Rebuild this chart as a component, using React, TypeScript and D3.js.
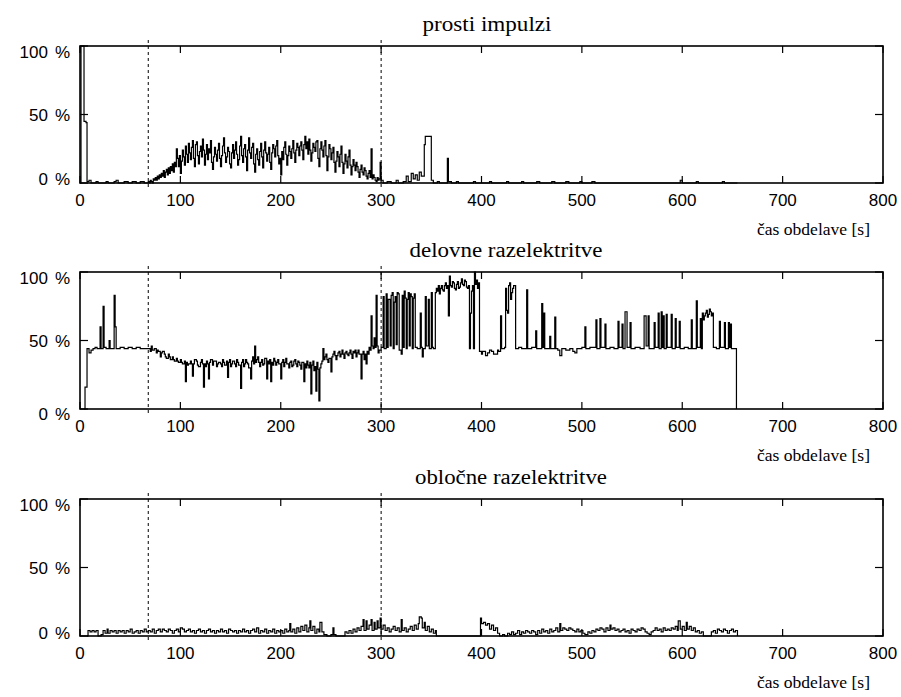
import * as d3 from "d3";
import { useRef, useEffect } from "react";

type Pt = [number, number];

// os x / os y
const xTicks = [0, 100, 200, 300, 400, 500, 600, 700, 800];
const yTicks = [0, 50, 100];
const markers = [68, 300]; // črtkane navpičnice
const xLabel = "čas obdelave [s]";

// prosti impulzi [s, %]
const prostiImpulzi: Pt[] = [
  [0, 0], [1, 100], [4, 45], [6, 44], [7, 1], [9, 2], [11, 0], [16, 1], [18, 0], [26, 1], [28, 0], [34, 1], [36, 2], [38, 0],
  [44, 1], [48, 0], [52, 1], [56, 0], [60, 1], [64, 0], [68, 1], [69, 0], [70, 2], [71, 1], [72, 0], [73, 3], [74, 2],
  [75, 4], [76, 2], [77, 5], [78, 3], [79, 6], [80, 4], [81, 7], [82, 5], [83, 9], [84, 4], [85, 8], [86, 10], [87, 6],
  [88, 11], [89, 7], [90, 12], [91, 9], [92, 14], [93, 8], [94, 15], [95, 12],
  [96, 25], [97, 18], [98, 12], [99, 20], [100, 7], [101, 16], [102, 24], [103, 19], [104, 13], [105, 27], [106, 21],
  [107, 15], [108, 29], [109, 22], [110, 17], [111, 26], [112, 31], [113, 18], [114, 12], [115, 28], [116, 30], [117, 20],
  [118, 14], [119, 23], [120, 27], [121, 19], [122, 32], [123, 24], [124, 13], [125, 21], [126, 28], [127, 17], [128, 25],
  [129, 22], [130, 31], [131, 15], [132, 10], [133, 19], [134, 26], [135, 21], [136, 16], [137, 24], [138, 29], [139, 18],
  [140, 12], [141, 20], [142, 27], [143, 33], [144, 22], [145, 15], [146, 19], [147, 26], [148, 23], [149, 14], [150, 11],
  [151, 22], [152, 28], [153, 18], [154, 24], [155, 30], [156, 21], [157, 13], [158, 17], [159, 27], [160, 34], [161, 20],
  [162, 15], [163, 25], [164, 28], [165, 19], [166, 9], [167, 24], [168, 33], [169, 22], [170, 18], [171, 26], [172, 29],
  [173, 14], [174, 8], [175, 21], [176, 25], [177, 17], [178, 13], [179, 23], [180, 29], [181, 19], [182, 11], [183, 24],
  [184, 30], [185, 22], [186, 16], [187, 21], [188, 26], [189, 15], [190, 10], [191, 22], [192, 28], [193, 25], [194, 19],
  [195, 27], [196, 31], [197, 20], [198, 14], [199, 18], [200, 6], [201, 23], [202, 17], [203, 26], [204, 30], [205, 21],
  [206, 13], [207, 20], [208, 27], [209, 23], [210, 18], [211, 25], [212, 31], [213, 22], [214, 15], [215, 24], [216, 29],
  [217, 26], [218, 20], [219, 27], [220, 30], [221, 24], [222, 17], [223, 28], [224, 34], [225, 25], [226, 30], [227, 21],
  [228, 32], [229, 24], [230, 16], [231, 22], [232, 29], [233, 26], [234, 23], [235, 30], [236, 31], [237, 18], [238, 12],
  [239, 25], [240, 30], [241, 24], [242, 19], [243, 27], [244, 31], [245, 20], [246, 9], [247, 19], [248, 28], [249, 25],
  [250, 17], [251, 22], [252, 26], [253, 15], [254, 8], [255, 16], [256, 23], [257, 19], [258, 12], [259, 21], [260, 27],
  [261, 15], [262, 7], [263, 14], [264, 21], [265, 16], [266, 11], [267, 19], [268, 24], [269, 13], [270, 6], [271, 12],
  [272, 17], [273, 13], [274, 9], [275, 15], [276, 12], [277, 8], [278, 4], [279, 10], [280, 13], [281, 8], [282, 6],
  [283, 11], [284, 9], [285, 5], [286, 3], [287, 7], [288, 9], [289, 4], [290, 25], [291, 3], [292, 6], [293, 4], [294, 2],
  [295, 1], [296, 4], [297, 2], [298, 3], [299, 15], [300, 2],
  [302, 0], [306, 1], [310, 0], [315, 2], [317, 0], [322, 1], [325, 5], [327, 1], [330, 7], [332, 3], [334, 6],
  [336, 2], [338, 8], [340, 5], [343, 28], [344, 34], [350, 2], [352, 0], [356, 1], [358, 0], [366, 18], [367, 1],
  [370, 0], [375, 1], [377, 0], [392, 1], [394, 0], [408, 1], [410, 0], [425, 1], [427, 0], [440, 1], [442, 0], [455, 1],
  [458, 0], [470, 1], [473, 0], [484, 1], [487, 0], [498, 1], [500, 0], [510, 1], [513, 0], [598, 2], [600, 0], [614, 1],
  [616, 0], [640, 1], [642, 0], [655, 0],
];

// delovne razelektritve [s, %]
const delovneRazelektritve: Pt[] = [
  [4, 0], [5, 16], [7, 44], [9, 41], [11, 43], [13, 44], [15, 45], [17, 44], [20, 60], [21, 44], [23, 75], [24, 45],
  [26, 44], [29, 50], [30, 44], [34, 83], [35, 60], [36, 44], [40, 45], [44, 44], [48, 45], [52, 44], [56, 45], [60, 44],
  [66, 44], [70, 42], [71, 46], [72, 43], [74, 44], [76, 41], [77, 43], [78, 42], [80, 38], [81, 41], [82, 42], [84, 40],
  [85, 38], [86, 37], [88, 40], [89, 38], [90, 36], [92, 38], [93, 36], [94, 35], [96, 37], [97, 35], [98, 34],
  [100, 36], [101, 34], [102, 33], [104, 35], [105, 20], [106, 34], [107, 32], [108, 33], [110, 35], [111, 33],
  [112, 24], [113, 33], [114, 36], [116, 35], [117, 32], [118, 31], [120, 34], [121, 36], [122, 33], [123, 16], [124, 33],
  [125, 31], [126, 35], [127, 33], [128, 22], [129, 34], [130, 36], [132, 32], [133, 35], [134, 35], [136, 31], [137, 33],
  [138, 34], [140, 33], [141, 31], [142, 36], [143, 34], [144, 32], [146, 35], [147, 23], [148, 34], [149, 36], [150, 31],
  [151, 33], [152, 35], [154, 33], [155, 31], [156, 36], [157, 34], [158, 32], [160, 15], [161, 34], [162, 36], [163, 31],
  [164, 33], [165, 36], [166, 34], [167, 33], [168, 30], [170, 22], [171, 35], [172, 38], [173, 33], [174, 46], [175, 34],
  [176, 36], [177, 38], [178, 34], [179, 31], [180, 34], [181, 36], [182, 32], [183, 33], [184, 37], [186, 22], [187, 35],
  [188, 33], [189, 36], [190, 20], [191, 34], [192, 32], [193, 37], [194, 35], [195, 32], [196, 34], [197, 36], [198, 33],
  [200, 22], [201, 34], [202, 36], [203, 31], [204, 34], [205, 37], [206, 33], [208, 30], [209, 34], [210, 35], [211, 31],
  [212, 32], [213, 35], [214, 36], [215, 33], [216, 31], [217, 35], [218, 34], [219, 32], [220, 29], [221, 34], [223, 20],
  [224, 33], [225, 30], [226, 35], [227, 32], [228, 30], [229, 34], [230, 11], [231, 32], [232, 35], [233, 28], [234, 31],
  [235, 13], [236, 34], [237, 29], [238, 6], [239, 30], [240, 33], [241, 35], [242, 44], [243, 36], [244, 38], [245, 40],
  [246, 36], [247, 34], [248, 37], [250, 27], [251, 38], [252, 40], [253, 42], [254, 39], [255, 36], [256, 39], [257, 41],
  [258, 42], [259, 38], [260, 40], [261, 43], [262, 40], [263, 37], [264, 41], [265, 42], [266, 40], [267, 39], [268, 41],
  [269, 43], [270, 40], [271, 37], [272, 42], [273, 41], [274, 43], [275, 38], [276, 41], [277, 43], [278, 40], [280, 22],
  [281, 40], [282, 42], [283, 36], [284, 40], [285, 33], [286, 42], [287, 40], [288, 45], [289, 43], [290, 68], [291, 46],
  [292, 44], [293, 52], [294, 45], [295, 83], [296, 46], [297, 41], [298, 43], [300, 45],
  [302, 82], [303, 44], [305, 84], [306, 45], [307, 80], [308, 80], [309, 46], [310, 83], [311, 85], [312, 44], [313, 78],
  [314, 82], [315, 47], [316, 85], [317, 84], [318, 43], [320, 40], [321, 83], [322, 45], [323, 86], [324, 81], [325, 44],
  [326, 80], [327, 85], [328, 46], [329, 84], [330, 82], [331, 44], [332, 81], [333, 84], [334, 45], [336, 44], [339, 70],
  [340, 45], [341, 38], [342, 44], [344, 82], [345, 46], [347, 80], [348, 44], [350, 85], [351, 45], [352, 44], [354, 85],
  [355, 88], [356, 86], [357, 90], [358, 84], [359, 88], [360, 90], [361, 87], [362, 86], [363, 90], [364, 92], [365, 88],
  [366, 90], [367, 68], [368, 97], [369, 90], [370, 89], [371, 93], [372, 92], [373, 88], [374, 87], [375, 91], [376, 93],
  [377, 88], [378, 89], [379, 92], [380, 95], [381, 91], [382, 90], [383, 94], [384, 93], [385, 89], [386, 88], [387, 90],
  [388, 44], [389, 70], [390, 86], [391, 90], [392, 44], [393, 100], [394, 91], [395, 94], [396, 88], [397, 92],
  [398, 42], [400, 40], [401, 42], [403, 42], [404, 39], [406, 41], [408, 43], [410, 42], [412, 40], [414, 40], [416, 43],
  [417, 42], [419, 68], [420, 44], [423, 45], [424, 88], [425, 72], [426, 70], [427, 90], [428, 92], [429, 80], [430, 85],
  [431, 88], [432, 90], [434, 44], [437, 45], [440, 44], [445, 87], [446, 44], [450, 45], [454, 57], [455, 44], [460, 77],
  [461, 45], [462, 70], [463, 44], [468, 53], [469, 44], [473, 67], [474, 44], [476, 43], [478, 39], [480, 44], [484, 43],
  [488, 44], [491, 42], [493, 41], [495, 44], [500, 45], [503, 60], [504, 44], [508, 45], [514, 65], [515, 44], [518, 66],
  [519, 45], [523, 62], [524, 44], [528, 45], [532, 44], [536, 64], [537, 45], [540, 62], [541, 44], [543, 71], [545, 45],
  [548, 63], [549, 44], [553, 45], [558, 44], [562, 68], [564, 46], [566, 68], [567, 44], [572, 63], [573, 45], [576, 70],
  [577, 44], [579, 71], [580, 45], [581, 68], [582, 44], [584, 69], [585, 45], [589, 69], [590, 44], [593, 66], [594, 45],
  [597, 64], [598, 44], [602, 45], [606, 44], [609, 65], [610, 44], [614, 79], [615, 45], [618, 66], [619, 44], [620, 70],
  [621, 65], [622, 68], [623, 70], [624, 72], [625, 67], [626, 69], [627, 73], [628, 71], [629, 68], [630, 70], [631, 45],
  [634, 44], [637, 64], [638, 45], [642, 63], [643, 44], [646, 63], [647, 45], [648, 62], [649, 44], [654, 0],
];

// obločne razelektritve [s, %]
const oblocneRazelektritve: Pt[] = [
  [7, 0], [8, 4], [10, 3], [12, 4], [14, 3], [16, 4], [18, 0], [21, 1], [23, 4], [25, 2], [27, 5], [28, 2], [30, 4],
  [32, 3], [34, 4], [36, 2], [38, 4], [40, 3], [42, 4], [44, 2], [46, 4], [48, 3], [50, 5], [52, 2], [54, 3], [56, 4],
  [58, 2], [60, 4], [62, 3], [64, 5], [66, 3], [68, 4], [70, 3], [72, 5], [74, 2], [76, 4], [78, 5], [80, 3], [82, 5],
  [84, 4], [86, 3], [88, 5], [90, 4], [92, 2], [94, 4], [96, 5], [98, 3], [100, 6], [102, 5], [104, 3], [106, 4], [108, 5],
  [110, 3], [112, 4], [114, 2], [116, 4], [118, 5], [120, 3], [122, 4], [124, 2], [126, 4], [128, 5], [130, 3], [132, 4],
  [134, 2], [136, 4], [138, 3], [140, 5], [142, 3], [144, 4], [146, 2], [148, 5], [150, 4], [152, 3], [154, 4], [156, 2],
  [158, 4], [160, 3], [162, 5], [164, 3], [166, 4], [168, 2], [170, 4], [172, 5], [174, 3], [176, 6], [178, 2], [180, 4],
  [182, 3], [184, 5], [186, 2], [188, 4], [190, 3], [192, 5], [194, 2], [196, 4], [198, 3], [200, 4], [202, 2], [204, 5],
  [206, 3], [208, 4], [209, 9], [210, 3], [212, 5], [214, 2], [216, 6], [218, 3], [220, 7], [222, 4], [224, 8], [226, 3],
  [228, 6], [229, 11], [230, 4], [232, 7], [234, 2], [236, 5], [238, 3], [239, 10], [241, 3], [243, 1], [246, 0], [250, 1],
  [252, 6], [253, 1], [255, 0], [263, 0], [264, 3], [266, 2], [268, 4], [270, 2], [272, 5], [274, 3], [276, 6], [278, 4],
  [280, 7], [282, 12], [283, 4], [285, 11], [286, 5], [288, 8], [290, 12], [291, 4], [293, 10], [294, 5], [296, 11],
  [297, 6], [299, 13], [300, 5], [302, 8], [304, 4], [306, 6], [308, 3], [310, 5], [312, 7], [314, 4], [316, 6], [318, 3],
  [320, 12], [321, 4], [323, 6], [325, 3], [327, 5], [329, 7], [331, 4], [333, 8], [335, 5], [337, 9], [338, 14], [340, 13],
  [341, 6], [343, 10], [344, 4], [346, 7], [348, 3], [350, 5], [352, 2], [354, 4], [355, 0], [398, 0], [399, 13], [400, 9],
  [402, 10], [404, 8], [406, 9], [408, 5], [410, 8], [412, 4], [414, 6], [416, 2], [418, 0], [421, 1], [423, 0], [426, 2],
  [428, 1], [430, 3], [432, 1], [434, 2], [436, 4], [438, 1], [440, 3], [442, 2], [444, 4], [446, 3], [448, 2], [450, 4],
  [452, 3], [454, 1], [456, 4], [458, 2], [460, 5], [462, 3], [464, 4], [466, 2], [468, 5], [470, 3], [472, 4], [474, 6],
  [476, 3], [478, 9], [479, 4], [481, 6], [483, 5], [485, 4], [487, 6], [489, 5], [491, 4], [493, 3], [495, 5], [497, 3],
  [499, 4], [501, 2], [503, 1], [506, 3], [508, 2], [510, 4], [512, 3], [514, 5], [516, 4], [518, 6], [520, 5], [522, 3],
  [524, 6], [526, 4], [528, 8], [529, 5], [531, 6], [533, 4], [535, 5], [537, 3], [539, 4], [541, 5], [543, 3], [545, 4],
  [547, 2], [549, 5], [551, 4], [553, 3], [555, 5], [557, 4], [559, 6], [561, 5], [563, 3], [565, 2], [567, 1], [569, 3],
  [571, 4], [573, 6], [575, 4], [577, 5], [579, 3], [581, 6], [583, 4], [585, 5], [587, 4], [589, 6], [591, 5], [593, 7],
  [595, 4], [596, 11], [598, 5], [600, 7], [602, 4], [604, 10], [605, 5], [607, 7], [609, 4], [611, 6], [613, 3], [615, 4],
  [617, 2], [619, 3], [621, 0], [628, 0], [629, 3], [631, 4], [633, 2], [635, 5], [637, 4], [639, 3], [641, 5], [643, 4],
  [645, 2], [647, 4], [649, 5], [651, 3], [653, 4], [655, 0],
];

const panels = [
  { title: "prosti impulzi", data: prostiImpulzi, top: 46, titleX: 487, titleW: 129, zeroDy: 2 },
  { title: "delovne razelektritve", data: delovneRazelektritve, top: 272, titleX: 506, titleW: 193, zeroDy: 11 },
  { title: "obločne razelektritve", data: oblocneRazelektritve, top: 499, titleX: 511, titleW: 192, zeroDy: 3 },
];

export default function App() {
  const svgRef = useRef<SVGSVGElement>(null);

  useEffect(() => {
    if (!svgRef.current) return;
    const svg = d3.select(svgRef.current);
    svg.selectAll("*").remove();

    const left = 80;
    const right = 883;
    const ph = 137; // višina panela
    const tick = 7;
    const sans = "Liberation Sans";
    const serif = "Liberation Serif";

    const x = d3.scaleLinear().domain([0, 800]).range([left, right]);

    panels.forEach((p) => {
      const y = d3.scaleLinear().domain([0, 100]).range([p.top + ph, p.top]);
      const g = svg.append("g");

      // črtkane navpičnice
      g.selectAll(".mark")
        .data(markers)
        .enter()
        .append("line")
        .attr("x1", (d) => x(d))
        .attr("x2", (d) => x(d))
        .attr("y1", p.top - 6)
        .attr("y2", p.top + ph + 6)
        .attr("stroke", "#000")
        .attr("stroke-width", 1)
        .attr("stroke-dasharray", "3,3");

      // signal
      const line = d3
        .line<Pt>()
        .x((d) => x(d[0]))
        .y((d) => y(d[1]))
        .curve(d3.curveStepAfter);
      g.append("path")
        .attr("d", line(p.data))
        .attr("fill", "none")
        .attr("stroke", "#000")
        .attr("stroke-width", 1.2);

      // okvir
      g.append("rect")
        .attr("x", left)
        .attr("y", p.top)
        .attr("width", right - left)
        .attr("height", ph)
        .attr("fill", "none")
        .attr("stroke", "#000")
        .attr("stroke-width", 1.6);

      // kljukice na x (zgoraj in spodaj, navznoter)
      xTicks.forEach((t) => {
        g.append("line")
          .attr("x1", x(t)).attr("x2", x(t))
          .attr("y1", p.top).attr("y2", p.top + tick)
          .attr("stroke", "#000").attr("stroke-width", 1.2);
        g.append("line")
          .attr("x1", x(t)).attr("x2", x(t))
          .attr("y1", p.top + ph).attr("y2", p.top + ph - tick)
          .attr("stroke", "#000").attr("stroke-width", 1.2);
        g.append("text")
          .attr("x", x(t))
          .attr("y", p.top + ph + 23)
          .attr("text-anchor", "middle")
          .style("font-family", sans)
          .style("font-size", "17px")
          .text(t);
      });

      // kljukice na y
      yTicks.forEach((v) => {
        g.append("line")
          .attr("x1", left).attr("x2", left + tick + 1)
          .attr("y1", y(v)).attr("y2", y(v))
          .attr("stroke", "#000").attr("stroke-width", 1.2);
        g.append("line")
          .attr("x1", right).attr("x2", right - tick - 1)
          .attr("y1", y(v)).attr("y2", y(v))
          .attr("stroke", "#000").attr("stroke-width", 1.2);
        const dy = v === 100 ? 12 : v === 50 ? 6 : p.zeroDy;
        const txt = g.append("text")
          .attr("x", left - 10)
          .attr("y", y(v) + dy)
          .attr("text-anchor", "end")
          .style("font-family", sans)
          .style("font-size", "17px")
          .text(v);
        txt.append("tspan").attr("dx", 7).text("%");
      });

      // naslov panela
      g.append("text")
        .attr("x", p.titleX)
        .attr("y", p.top - 15)
        .attr("text-anchor", "middle")
        .style("font-family", serif)
        .style("font-size", "20px")
        .attr("textLength", p.titleW)
        .attr("lengthAdjust", "spacingAndGlyphs")
        .text(p.title);

      // oznaka osi x
      g.append("text")
        .attr("x", 870)
        .attr("y", p.top + ph + 52)
        .attr("text-anchor", "end")
        .style("font-family", serif)
        .style("font-size", "17px")
        .attr("textLength", 113)
        .attr("lengthAdjust", "spacingAndGlyphs")
        .text(xLabel);
    });
  }, []);

  return (
    <svg
      ref={svgRef}
      width={901}
      height={697}
      viewBox="0 0 901 697"
      style={{ position: "absolute", left: 0, top: 0, background: "#fff", display: "block" }}
    />
  );
}
